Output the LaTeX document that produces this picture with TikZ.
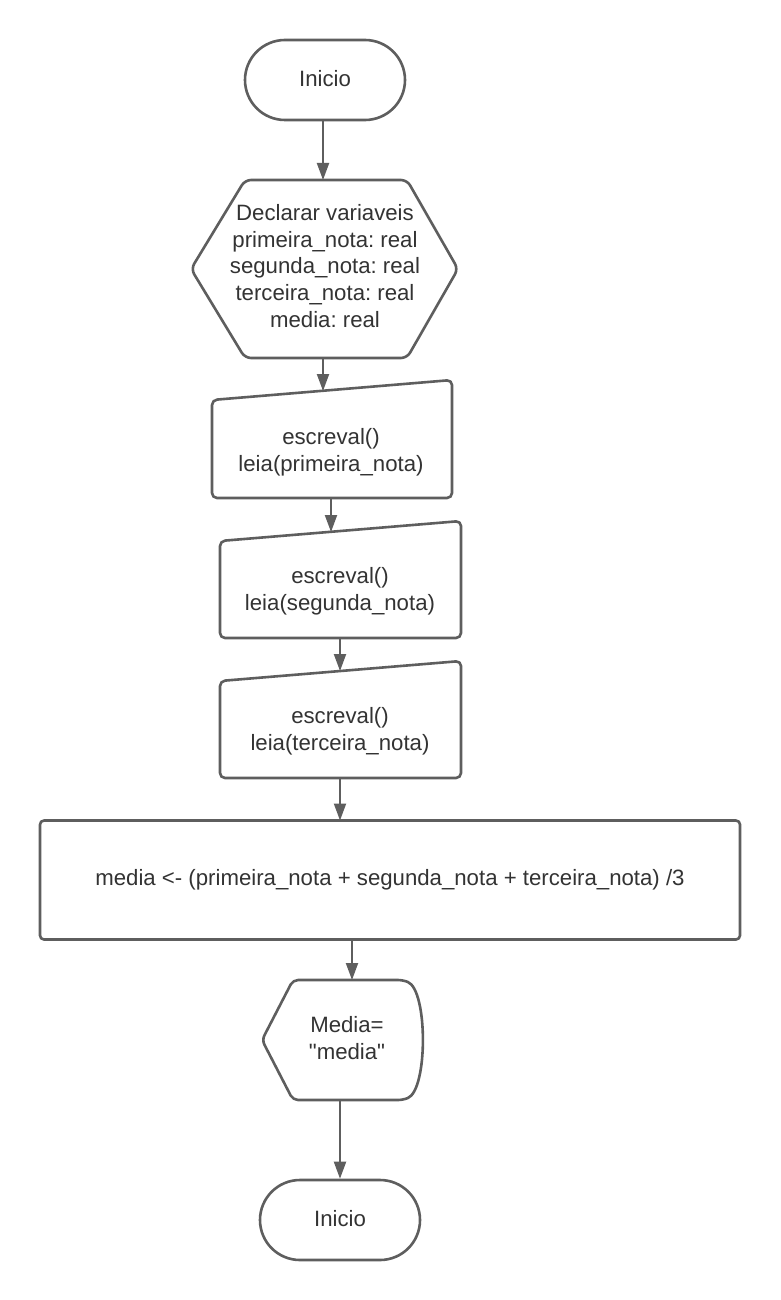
\documentclass[tikz,border=0pt]{standalone}
\usepackage{fontspec}
\setmainfont{Liberation Sans}
\usetikzlibrary{arrows.meta,shapes.misc}
\frenchspacing
\definecolor{edge}{HTML}{5E5E5E}
\definecolor{txt}{HTML}{333333}
\tikzset{
  shapeline/.style={draw=edge,line width=2.6pt,fill=white,line join=round},
  term/.style={shapeline,rounded rectangle,minimum width=160pt,minimum height=80pt,inner sep=0pt},
  lbl/.style={text=txt,align=center,font=\fontsize{22.2pt}{26.6pt}\selectfont,inner sep=0pt},
  conn/.style={draw=edge,line width=2pt,-{Triangle[width=12pt,length=17pt]}},
}
\begin{document}
\begin{tikzpicture}[x=1pt,y=-1pt]
\useasboundingbox[fill=white] (0,0) rectangle (780,1300);

% start
\node[term] (start) at (325,80) {};
\node[lbl] (startT) at (325,79) {Inicio};

% hexagon
\draw[shapeline,rounded corners=6pt] (191,269) -- (245,180) -- (407,180) -- (458,269) -- (407,358) -- (245,358) -- cycle;
\node[lbl] (decl) at (325,266) {Declarar variaveis\\primeira\_nota: real\\segunda\_nota: real\\terceira\_nota: real\\media: real};
\coordinate (hexT) at (323,180);
\coordinate (hexB) at (323,358);

% input 1
\draw[shapeline,rounded corners=5pt] (212,400) -- (452,380) -- (452,498) -- (212,498) -- cycle;
\node[lbl] (in1) at (331,452) {escreval()\\leia(primeira\_nota)};
\coordinate (in1T) at (323,391);
\coordinate (in1B) at (331,498);

% input 2
\draw[shapeline,rounded corners=5pt] (220,541) -- (461,521) -- (461,638) -- (220,638) -- cycle;
\node[lbl] (in2) at (340,591) {escreval()\\leia(segunda\_nota)};
\coordinate (in2T) at (331,532);
\coordinate (in2B) at (340,638);

% input 3
\draw[shapeline,rounded corners=5pt] (220,681) -- (461,661) -- (461,778) -- (220,778) -- cycle;
\node[lbl] (in3) at (340,731) {escreval()\\leia(terceira\_nota)};
\coordinate (in3T) at (340,671);
\coordinate (in3B) at (340,778);

% process
\node[shapeline,rounded corners=4pt,minimum width=700pt,minimum height=119pt,inner sep=0pt] (proc) at (390,880) {};
\node[lbl] (procT) at (390,880) {media <- (primeira\_nota + segunda\_nota + terceira\_nota) /3};
\coordinate (procT1) at (340,820.5);
\coordinate (procB) at (352,939.5);

% display
\draw[shapeline,rounded corners=5pt] (262,1040) -- (293,980) -- (403,980) .. controls (428,990) and (428,1090) .. (403,1100) -- (293,1100) -- cycle;
\node[lbl] (disp) at (347,1038) {Media=\\\textquotedbl media\textquotedbl};
\coordinate (dispT) at (352,980);
\coordinate (dispB) at (340,1100);

% end
\node[term] (stop) at (340,1220) {};
\node[lbl] (stopT) at (340,1219) {Inicio};

% connectors
\draw[conn] (323,120) -- (hexT);
\draw[conn] (hexB) -- (in1T);
\draw[conn] (in1B) -- (in2T);
\draw[conn] (in2B) -- (in3T);
\draw[conn] (in3B) -- (procT1);
\draw[conn] (procB) -- (dispT);
\draw[conn] (dispB) -- (stop.north);
\end{tikzpicture}
\end{document}
